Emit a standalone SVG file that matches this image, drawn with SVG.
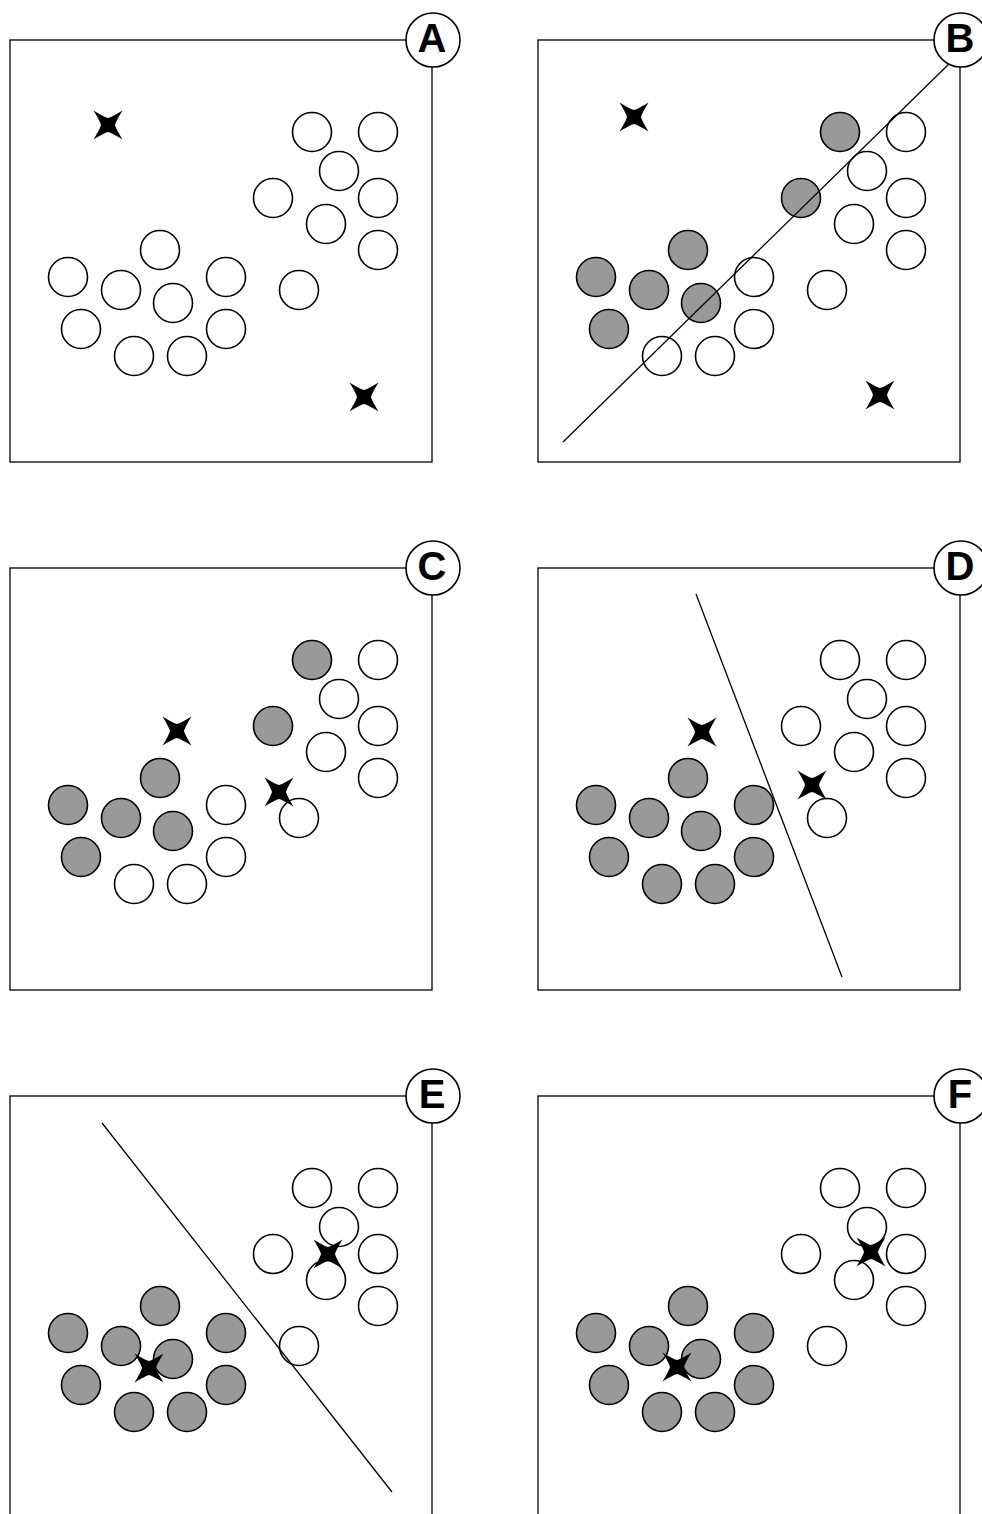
<svg xmlns="http://www.w3.org/2000/svg" xmlns:xlink="http://www.w3.org/1999/xlink" width="982" height="1514" viewBox="0 0 982 1514">
<style>
.frame{fill:none;stroke:#000;stroke-width:1.3}
.pt{fill:#fff;stroke:#000;stroke-width:1.6}
.g{fill:#999}
.div{stroke:#000;stroke-width:1.3;fill:none}
.star{fill:#000}
.lc{fill:#fff;stroke:#000;stroke-width:1.6}
.lt{font-family:"Liberation Sans",Arial,sans-serif;font-weight:bold;font-size:40px;text-anchor:middle;fill:#000}
</style>
<defs>
<path id="star" d="M-14.5,-14.5 Q-4,-8 0,-7 Q4,-8 14.5,-14.5 Q8,-4 7,0 Q8,4 14.5,14.5 Q4,8 0,7 Q-4,8 -14.5,14.5 Q-8,4 -7,0 Q-8,-4 -14.5,-14.5 Z"/>
</defs>
<rect x="0" y="0" width="982" height="1514" fill="#fff"/>

<g id="panel-a" transform="translate(10,40)">
<rect class="frame" x="0" y="0" width="422" height="422"/>
<circle class="pt" cx="150" cy="210" r="19.5"/>
<circle class="pt" cx="58" cy="237" r="19.5"/>
<circle class="pt" cx="111" cy="250" r="19.5"/>
<circle class="pt" cx="216" cy="237" r="19.5"/>
<circle class="pt" cx="163" cy="263" r="19.5"/>
<circle class="pt" cx="71" cy="289" r="19.5"/>
<circle class="pt" cx="216" cy="289" r="19.5"/>
<circle class="pt" cx="124" cy="316" r="19.5"/>
<circle class="pt" cx="177" cy="316" r="19.5"/>
<circle class="pt" cx="302" cy="92" r="19.5"/>
<circle class="pt" cx="368" cy="92" r="19.5"/>
<circle class="pt" cx="329" cy="131" r="19.5"/>
<circle class="pt" cx="263" cy="158" r="19.5"/>
<circle class="pt" cx="368" cy="158" r="19.5"/>
<circle class="pt" cx="316" cy="184" r="19.5"/>
<circle class="pt" cx="368" cy="210" r="19.5"/>
<circle class="pt" cx="289" cy="250" r="19.5"/>
<use href="#star" class="star" x="98" y="85"/>
<use href="#star" class="star" x="354" y="357"/>
<circle class="lc" cx="423" cy="0" r="27"/>
<text class="lt" x="422" y="12">A</text>
</g>

<g id="panel-b" transform="translate(538,40)">
<rect class="frame" x="0" y="0" width="422" height="422"/>
<circle class="pt g" cx="150" cy="210" r="19.5"/>
<circle class="pt g" cx="58" cy="237" r="19.5"/>
<circle class="pt g" cx="111" cy="250" r="19.5"/>
<circle class="pt" cx="216" cy="237" r="19.5"/>
<circle class="pt g" cx="163" cy="263" r="19.5"/>
<circle class="pt g" cx="71" cy="289" r="19.5"/>
<circle class="pt" cx="216" cy="289" r="19.5"/>
<circle class="pt" cx="124" cy="316" r="19.5"/>
<circle class="pt" cx="177" cy="316" r="19.5"/>
<circle class="pt g" cx="302" cy="92" r="19.5"/>
<circle class="pt" cx="368" cy="92" r="19.5"/>
<circle class="pt" cx="329" cy="131" r="19.5"/>
<circle class="pt g" cx="263" cy="158" r="19.5"/>
<circle class="pt" cx="368" cy="158" r="19.5"/>
<circle class="pt" cx="316" cy="184" r="19.5"/>
<circle class="pt" cx="368" cy="210" r="19.5"/>
<circle class="pt" cx="289" cy="250" r="19.5"/>
<line class="div" x1="25" y1="402" x2="416" y2="19"/>
<use href="#star" class="star" x="96" y="77"/>
<use href="#star" class="star" x="342" y="355"/>
<circle class="lc" cx="423" cy="0" r="27"/>
<text class="lt" x="422" y="12">B</text>
</g>

<g id="panel-c" transform="translate(10,568)">
<rect class="frame" x="0" y="0" width="422" height="422"/>
<circle class="pt g" cx="150" cy="210" r="19.5"/>
<circle class="pt g" cx="58" cy="237" r="19.5"/>
<circle class="pt g" cx="111" cy="250" r="19.5"/>
<circle class="pt" cx="216" cy="237" r="19.5"/>
<circle class="pt g" cx="163" cy="263" r="19.5"/>
<circle class="pt g" cx="71" cy="289" r="19.5"/>
<circle class="pt" cx="216" cy="289" r="19.5"/>
<circle class="pt" cx="124" cy="316" r="19.5"/>
<circle class="pt" cx="177" cy="316" r="19.5"/>
<circle class="pt g" cx="302" cy="92" r="19.5"/>
<circle class="pt" cx="368" cy="92" r="19.5"/>
<circle class="pt" cx="329" cy="131" r="19.5"/>
<circle class="pt g" cx="263" cy="158" r="19.5"/>
<circle class="pt" cx="368" cy="158" r="19.5"/>
<circle class="pt" cx="316" cy="184" r="19.5"/>
<circle class="pt" cx="368" cy="210" r="19.5"/>
<circle class="pt" cx="289" cy="250" r="19.5"/>
<use href="#star" class="star" x="167" y="163"/>
<use href="#star" class="star" x="269" y="224"/>
<circle class="lc" cx="423" cy="0" r="27"/>
<text class="lt" x="422" y="12">C</text>
</g>

<g id="panel-d" transform="translate(538,568)">
<rect class="frame" x="0" y="0" width="422" height="422"/>
<circle class="pt g" cx="150" cy="210" r="19.5"/>
<circle class="pt g" cx="58" cy="237" r="19.5"/>
<circle class="pt g" cx="111" cy="250" r="19.5"/>
<circle class="pt g" cx="216" cy="237" r="19.5"/>
<circle class="pt g" cx="163" cy="263" r="19.5"/>
<circle class="pt g" cx="71" cy="289" r="19.5"/>
<circle class="pt g" cx="216" cy="289" r="19.5"/>
<circle class="pt g" cx="124" cy="316" r="19.5"/>
<circle class="pt g" cx="177" cy="316" r="19.5"/>
<circle class="pt" cx="302" cy="92" r="19.5"/>
<circle class="pt" cx="368" cy="92" r="19.5"/>
<circle class="pt" cx="329" cy="131" r="19.5"/>
<circle class="pt" cx="263" cy="158" r="19.5"/>
<circle class="pt" cx="368" cy="158" r="19.5"/>
<circle class="pt" cx="316" cy="184" r="19.5"/>
<circle class="pt" cx="368" cy="210" r="19.5"/>
<circle class="pt" cx="289" cy="250" r="19.5"/>
<line class="div" x1="158" y1="26" x2="304" y2="409"/>
<use href="#star" class="star" x="164" y="164"/>
<use href="#star" class="star" x="274" y="217"/>
<circle class="lc" cx="423" cy="0" r="27"/>
<text class="lt" x="422" y="12">D</text>
</g>

<g id="panel-e" transform="translate(10,1096)">
<rect class="frame" x="0" y="0" width="422" height="422"/>
<circle class="pt g" cx="150" cy="210" r="19.5"/>
<circle class="pt g" cx="58" cy="237" r="19.5"/>
<circle class="pt g" cx="111" cy="250" r="19.5"/>
<circle class="pt g" cx="216" cy="237" r="19.5"/>
<circle class="pt g" cx="163" cy="263" r="19.5"/>
<circle class="pt g" cx="71" cy="289" r="19.5"/>
<circle class="pt g" cx="216" cy="289" r="19.5"/>
<circle class="pt g" cx="124" cy="316" r="19.5"/>
<circle class="pt g" cx="177" cy="316" r="19.5"/>
<circle class="pt" cx="302" cy="92" r="19.5"/>
<circle class="pt" cx="368" cy="92" r="19.5"/>
<circle class="pt" cx="329" cy="131" r="19.5"/>
<circle class="pt" cx="263" cy="158" r="19.5"/>
<circle class="pt" cx="368" cy="158" r="19.5"/>
<circle class="pt" cx="316" cy="184" r="19.5"/>
<circle class="pt" cx="368" cy="210" r="19.5"/>
<circle class="pt" cx="289" cy="250" r="19.5"/>
<line class="div" x1="92" y1="27" x2="382" y2="396"/>
<use href="#star" class="star" x="139" y="272"/>
<use href="#star" class="star" x="318" y="158"/>
<circle class="lc" cx="423" cy="0" r="27"/>
<text class="lt" x="422" y="12">E</text>
</g>

<g id="panel-f" transform="translate(538,1096)">
<rect class="frame" x="0" y="0" width="422" height="422"/>
<circle class="pt g" cx="150" cy="210" r="19.5"/>
<circle class="pt g" cx="58" cy="237" r="19.5"/>
<circle class="pt g" cx="111" cy="250" r="19.5"/>
<circle class="pt g" cx="216" cy="237" r="19.5"/>
<circle class="pt g" cx="163" cy="263" r="19.5"/>
<circle class="pt g" cx="71" cy="289" r="19.5"/>
<circle class="pt g" cx="216" cy="289" r="19.5"/>
<circle class="pt g" cx="124" cy="316" r="19.5"/>
<circle class="pt g" cx="177" cy="316" r="19.5"/>
<circle class="pt" cx="302" cy="92" r="19.5"/>
<circle class="pt" cx="368" cy="92" r="19.5"/>
<circle class="pt" cx="329" cy="131" r="19.5"/>
<circle class="pt" cx="263" cy="158" r="19.5"/>
<circle class="pt" cx="368" cy="158" r="19.5"/>
<circle class="pt" cx="316" cy="184" r="19.5"/>
<circle class="pt" cx="368" cy="210" r="19.5"/>
<circle class="pt" cx="289" cy="250" r="19.5"/>
<use href="#star" class="star" x="139" y="271"/>
<use href="#star" class="star" x="333" y="156"/>
<circle class="lc" cx="423" cy="0" r="27"/>
<text class="lt" x="422" y="12">F</text>
</g>
</svg>
